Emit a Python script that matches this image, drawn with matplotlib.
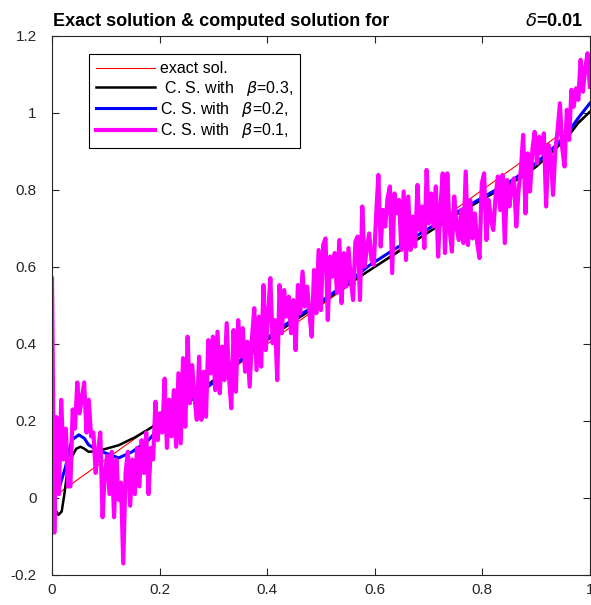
import numpy as np
import matplotlib.pyplot as plt

plt.rcParams['font.family'] = ['Liberation Sans', 'DejaVu Sans']
plt.rcParams['mathtext.fontset'] = 'dejavusans'

# exact solution
x_exact = [0.0, 1.0]
y_exact = [0.0, 1.0]

# computed solution, beta = 0.3
x_b3 = [0.0, 0.006, 0.012, 0.018, 0.023, 0.028, 0.037, 0.045, 0.053, 0.06, 0.068, 0.08,
        0.093, 0.124, 0.155, 0.186, 0.217, 0.242, 0.3, 0.35, 0.4, 0.45, 0.5, 0.55, 0.6,
        0.65, 0.7, 0.75, 0.8, 0.85, 0.875, 0.9, 0.935, 0.96, 0.978, 1.0]
y_b3 = [0.02, -0.03, -0.044, -0.035, 0.01, 0.065, 0.107, 0.128, 0.133, 0.128, 0.12, 0.121,
        0.125, 0.137, 0.158, 0.184, 0.221, 0.247, 0.305, 0.355, 0.41, 0.46, 0.505, 0.555, 0.6,
        0.645, 0.69, 0.735, 0.775, 0.815, 0.835, 0.86, 0.905, 0.94, 0.973, 1.003]

# computed solution, beta = 0.2
x_b2 = [0.0, 0.012, 0.025, 0.037, 0.05, 0.06, 0.068, 0.08, 0.093, 0.124, 0.149, 0.18,
        0.204, 0.242, 0.3, 0.344, 0.39, 0.442, 0.5, 0.55, 0.591, 0.641, 0.665, 0.716,
        0.75, 0.8, 0.85, 0.874, 0.9, 0.935, 0.96, 0.978, 1.0]
y_b2 = [0.03, 0.02, 0.08, 0.151, 0.164, 0.155, 0.138, 0.128, 0.12, 0.104, 0.12, 0.151,
        0.19, 0.236, 0.3, 0.35, 0.406, 0.458, 0.51, 0.56, 0.605, 0.65, 0.67, 0.713,
        0.74, 0.78, 0.82, 0.843, 0.87, 0.913, 0.95, 0.986, 1.025]

# computed solution, beta = 0.1 (noisy), on a uniform grid over [0, 1]
y_b1 = [0.57, -0.09, 0.21, 0.01, 0.255, 0.10, 0.18, 0.03, 0.03, 0.23, 0.18, 0.30, 0.22, 0.26,
        0.30, 0.17, 0.255, 0.16, 0.17, 0.065, 0.12, 0.17, -0.05, 0.065, 0.11, 0.01, 0.12,
        -0.05, 0.10, -0.005, 0.04, -0.17, 0.065, 0.12, -0.02, 0.10, 0.01, 0.13, 0.03, 0.15,
        0.065, 0.17, 0.01, 0.13, 0.10, 0.25, 0.15, 0.22, 0.17, 0.31, 0.13, 0.255, 0.16, 0.28,
        0.133, 0.324, 0.142, 0.363, 0.185, 0.419, 0.246, 0.345, 0.263, 0.203, 0.367, 0.203,
        0.328, 0.211, 0.41, 0.324, 0.419, 0.28, 0.432, 0.272, 0.393, 0.306, 0.454, 0.315,
        0.233, 0.436, 0.276, 0.462, 0.367, 0.441, 0.328, 0.406, 0.289, 0.415, 0.493, 0.332,
        0.471, 0.341, 0.553, 0.384, 0.475, 0.571, 0.402, 0.462, 0.306, 0.553, 0.428, 0.54,
        0.471, 0.523, 0.428, 0.514, 0.384, 0.553, 0.48, 0.588, 0.497,
        0.549, 0.48, 0.419, 0.592, 0.48, 0.644, 0.488, 0.657, 0.674, 0.462, 0.627, 0.575,
        0.636, 0.532, 0.67, 0.506, 0.636, 0.549, 0.649, 0.566, 0.514, 0.666, 0.679, 0.514,
        0.757, 0.601, 0.649, 0.687, 0.618, 0.605, 0.731, 0.839, 0.653, 0.748, 0.705, 0.778,
        0.809, 0.584, 0.791, 0.74, 0.774, 0.644, 0.796, 0.618, 0.783, 0.644, 0.731, 0.653,
        0.813, 0.696, 0.757, 0.649, 0.852, 0.713, 0.791, 0.705, 0.809, 0.627, 0.757, 0.843,
        0.636,
        0.843, 0.696, 0.64, 0.783, 0.705, 0.67, 0.748, 0.662, 0.848, 0.657, 0.774, 0.674,
        0.739, 0.662, 0.623, 0.817, 0.843, 0.67, 0.774, 0.722, 0.696, 0.783, 0.835, 0.748,
        0.839, 0.662, 0.826, 0.757, 0.809, 0.83, 0.705, 0.8, 0.852, 0.943, 0.739, 0.895,
        0.796, 0.904, 0.951, 0.869, 0.938, 0.895, 0.947, 0.757, 0.917, 0.891, 0.787, 0.904,
        0.956, 1.025, 0.908, 0.861, 1.008, 0.93, 1.06, 1.016, 1.064, 1.034, 1.138, 1.055,
        1.116, 1.155, 1.068]
x_b1 = np.linspace(0, 1, len(y_b1))

labels = ['exact sol.', r' C. S. with   $\beta$=0.3,', r'C. S. with   $\beta$=0.2,',
          r'C. S. with   $\beta$=0.1,']

fig = plt.figure(figsize=(5.91, 6.05), dpi=100)
ax = fig.add_axes([0.088, 0.0496, 0.91, 0.891])

ax.plot(x_exact, y_exact, color='red', lw=0.8, label=labels[0])
ax.plot(x_b3, y_b3, color='black', lw=1.8, label=labels[1])
ax.plot(x_b2, y_b2, color='blue', lw=2.2, label=labels[2])
ax.plot(x_b1, y_b1, color='magenta', lw=3.0, label=labels[3])

ax.set_xlim(0, 1)
ax.set_ylim(-0.2, 1.2)
ax.set_xticks([0, 0.2, 0.4, 0.6, 0.8, 1])
ax.set_xticklabels(['0', '0.2', '0.4', '0.6', '0.8', '1'])
ax.set_yticks([-0.2, 0, 0.2, 0.4, 0.6, 0.8, 1, 1.2])
ax.set_yticklabels(['-0.2', '0', '0.2', '0.4', '0.6', '0.8', '1', '1.2'])
ax.tick_params(direction='in', length=5, width=0.8, top=True, right=True,
               labelsize=11, colors='#262626')
ax.tick_params(axis='y', pad=11)
ax.tick_params(axis='x', pad=6)
for s in ax.spines.values():
    s.set_color('#262626')
    s.set_linewidth(0.8)

leg = ax.legend(loc='upper left', bbox_to_anchor=(0.069, 0.9666), borderaxespad=0,
                fancybox=False, edgecolor='black', framealpha=1, fontsize=11.5,
                handlelength=3.7, handletextpad=0.3, labelspacing=0.15, borderpad=0.45)
leg.get_frame().set_linewidth(0.8)

ax.text(0.002, 1.0186, 'Exact solution & computed solution for', transform=ax.transAxes,
        fontsize=13, fontweight='bold', ha='left', va='baseline')
ax.text(0.987, 1.0186, r'$\delta$=0.01', transform=ax.transAxes,
        fontsize=13, fontweight='bold', ha='right', va='baseline')

fig.savefig('out.png', dpi=100)
